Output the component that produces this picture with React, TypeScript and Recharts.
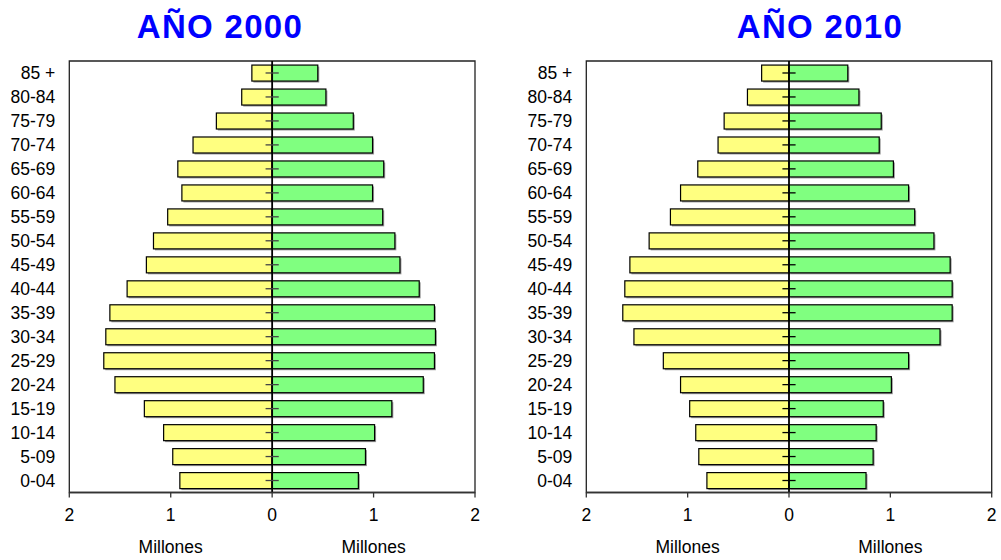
import React from 'react';
import {
  BarChart,
  Bar,
  XAxis,
  YAxis,
  ReferenceLine,
  ReferenceArea,
} from 'recharts';

// Age groups, from the oldest (top) to the youngest (bottom)
const ageGroups = [
  '85 +', '80-84', '75-79', '70-74', '65-69', '60-64', '55-59', '50-54', '45-49',
  '40-44', '35-39', '30-34', '25-29', '20-24', '15-19', '10-14', '5-09', '0-04',
];

// Population in millions
const hombres2000 = [0.2, 0.3, 0.55, 0.78, 0.93, 0.89, 1.03, 1.17, 1.24, 1.43, 1.6, 1.64, 1.66, 1.55, 1.26, 1.07, 0.98, 0.91];
const mujeres2000 = [0.45, 0.53, 0.8, 0.99, 1.1, 0.99, 1.09, 1.21, 1.26, 1.45, 1.6, 1.61, 1.6, 1.49, 1.18, 1.01, 0.92, 0.85];
const hombres2010 = [0.27, 0.41, 0.64, 0.7, 0.9, 1.07, 1.17, 1.38, 1.57, 1.62, 1.64, 1.53, 1.24, 1.07, 0.98, 0.92, 0.89, 0.81];
const mujeres2010 = [0.58, 0.69, 0.91, 0.89, 1.03, 1.18, 1.24, 1.43, 1.59, 1.61, 1.61, 1.49, 1.18, 1.01, 0.93, 0.86, 0.83, 0.76];

const xTicks = [-2, -1, 0, 1, 2];

const FONT = "'Liberation Sans', Arial, Helvetica, sans-serif";

const buildRows = (men: number[], women: number[]) =>
  ageGroups.map((age, i) => ({ age, hombres: -men[i], mujeres: women[i] }));

// Bar with a thin black outline and a soft grey drop shadow
const ShadowBar = (props: any) => {
  const { x, y, width, height, fill } = props;
  if (x == null || y == null || !width || !height) return null;
  const x0 = Math.min(x, x + width);
  const w = Math.abs(width);
  const y0 = Math.min(y, y + height);
  const h = Math.abs(height);
  return (
    <g>
      <rect x={x0 + 1.5} y={y0 + 1.5} width={w} height={h} fill="#9c9c9c" />
      <rect x={x0} y={y0} width={w} height={h} fill={fill} stroke="#000" strokeWidth={1.2} />
    </g>
  );
};

type PyramidProps = {
  left: number;
  width: number;
  marginRight: number;
  men: number[];
  women: number[];
  tickColor: string;
};

const Pyramid = ({ left, width, marginRight, men, women, tickColor }: PyramidProps) => {
  const rows = buildRows(men, women);
  return (
    <div style={{ position: 'absolute', left, top: 0 }}>
      <BarChart
        width={width}
        height={560}
        data={rows}
        layout="vertical"
        stackOffset="sign"
        barCategoryGap="17%"
        margin={{ top: 61, right: marginRight, bottom: 37.5, left: 9.3 }}
      >
        <XAxis
          type="number"
          domain={[-2, 2]}
          ticks={xTicks}
          allowDataOverflow
          tickFormatter={(v: number) => String(Math.abs(v))}
          height={30}
          tickSize={5}
          tickMargin={11.5}
          axisLine={{ stroke: '#333', strokeWidth: 1.3 }}
          tickLine={{ stroke: '#333', strokeWidth: 1.3 }}
          tick={{ fontSize: 17.5, fill: '#000', fontFamily: FONT }}
        />
        <YAxis
          type="category"
          dataKey="age"
          width={60}
          interval={0}
          axisLine={false}
          tickLine={false}
          tickMargin={8}
          tick={{ fontSize: 17.5, fill: '#000', fontFamily: FONT }}
        />
        <ReferenceArea x1={-2} x2={2} fill="none" stroke="#222" strokeWidth={1.3} />
        <Bar dataKey="hombres" stackId="p" fill="#FFFF80" shape={ShadowBar} isAnimationActive={false} />
        <Bar dataKey="mujeres" stackId="p" fill="#80FF80" shape={ShadowBar} isAnimationActive={false} />
        <ReferenceLine x={0} stroke="#000" strokeWidth={1.8} />
        {ageGroups.map((age) => (
          <ReferenceLine
            key={age}
            segment={[
              { x: -0.065, y: age },
              { x: 0.065, y: age },
            ]}
            stroke={tickColor}
            strokeWidth={1.3}
          />
        ))}
      </BarChart>
    </div>
  );
};

export default function App() {
  return (
    <div
      style={{
        position: 'absolute',
        left: 0,
        top: 0,
        width: 1001,
        height: 560,
        background: '#fff',
        overflow: 'hidden',
      }}
    >
      <Pyramid left={0} width={500} marginRight={25} men={hombres2000} women={mujeres2000} tickColor="#444" />
      <Pyramid left={517} width={484} marginRight={9.3} men={hombres2010} women={mujeres2010} tickColor="#000" />
      <svg
        width={1001}
        height={560}
        style={{ position: 'absolute', left: 0, top: 0, pointerEvents: 'none' }}
      >
        <g fontFamily={FONT} fontWeight="bold" fontSize={33} fill="#0000FF" textAnchor="middle" letterSpacing={1.3}>
          <text x={220} y={37.5}>AÑO 2000</text>
          <text x={820} y={37.5}>AÑO 2010</text>
        </g>
        <g fontFamily={FONT} fontSize={17.5} fill="#000" textAnchor="middle">
          <text x={170.7} y={553}>Millones</text>
          <text x={373.6} y={553}>Millones</text>
          <text x={687.6} y={553}>Millones</text>
          <text x={890.4} y={553}>Millones</text>
        </g>
      </svg>
    </div>
  );
}
